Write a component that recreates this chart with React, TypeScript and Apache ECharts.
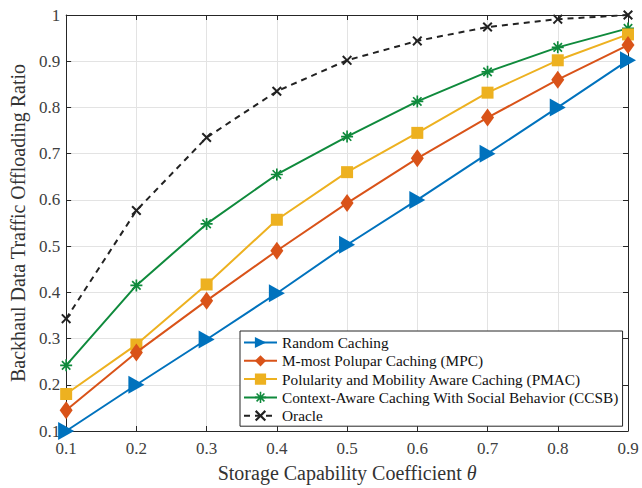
import React, { useEffect, useRef } from "react";
import * as echarts from "echarts";

const xValues = [0.1, 0.2, 0.3, 0.4, 0.5, 0.6, 0.7, 0.8, 0.9];
const randomCaching = [0.1, 0.2, 0.298, 0.398, 0.503, 0.6, 0.7, 0.8, 0.902];
const mpc = [0.145, 0.27, 0.382, 0.49, 0.593, 0.69, 0.778, 0.86, 0.935];
const pmac = [0.18, 0.287, 0.417, 0.557, 0.66, 0.745, 0.832, 0.902, 0.958];
const ccsb = [0.242, 0.415, 0.548, 0.655, 0.737, 0.813, 0.877, 0.93, 0.971];
const oracle = [0.343, 0.577, 0.735, 0.835, 0.902, 0.944, 0.974, 0.991, 1.0];

const seriesNames = [
  "Random Caching",
  "M-most Polupar Caching (MPC)",
  "Polularity and Mobility Aware Caching (PMAC)",
  "Context-Aware Caching With Social Behavior (CCSB)",
  "Oracle",
];

const FONT = "Liberation Serif";
const AXIS_COLOR = "#262626";

const crossPath =
  "path://M0,1.4L1.4,0L5,3.6L8.6,0L10,1.4L6.4,5L10,8.6L8.6,10L5,6.4L1.4,10L0,8.6L3.6,5Z";
const asteriskPath =
  "path://M4.3,0H5.7V10H4.3Z M0,4.3H10V5.7H0Z M1.0,2.0L2.0,1.0L9.0,8.0L8.0,9.0Z M8.0,1.0L9.0,2.0L2.0,9.0L1.0,8.0Z";

const pair = (ys: number[]) => xValues.map((x, i) => [x, ys[i]]);

export default function App() {
  const ref = useRef<HTMLDivElement>(null);
  useEffect(() => {
    if (!ref.current) return;
    const chart = echarts.init(ref.current, null, { renderer: "svg" });
    const fmt1 = (v: number) => "{t|" + (Math.abs(v - 1) < 1e-9 ? "1" : v.toFixed(1)) + "}";
    const tickRich = { t: { fontFamily: FONT, fontSize: 17, color: "#404040" } };
    const baseAxis = {
      type: "value" as const,
      interval: 0.1,
      axisLine: { show: true, lineStyle: { color: AXIS_COLOR, width: 1 } },
      axisTick: { show: true, inside: true, length: 5, lineStyle: { color: AXIS_COLOR } },
    };
    chart.setOption({
      animation: false,
      backgroundColor: "#ffffff",
      textStyle: { fontFamily: FONT },
      grid: { left: 63, right: 14, top: 15, bottom: 53, containLabel: false },
      xAxis: [
        {
          ...baseAxis,
          min: 0.1,
          max: 0.9,
          position: "bottom",
          name: "Storage Capability Coefficient {i|θ}",
          nameLocation: "middle",
          nameGap: 32,
          nameTextStyle: {
            fontFamily: FONT,
            fontSize: 20,
            color: "#333",
            rich: { i: { fontStyle: "italic", fontFamily: FONT, fontSize: 20, color: "#333" } },
          },
          axisLabel: { formatter: fmt1, fontFamily: FONT, fontSize: 17, color: "#404040", margin: 9, rich: tickRich },
          splitLine: { show: true, lineStyle: { color: "#e3e3e3", width: 1 } },
        },
        {
          ...baseAxis,
          min: 0.1,
          max: 0.9,
          position: "top",
          axisLabel: { show: false },
          splitLine: { show: false },
        },
      ],
      yAxis: [
        {
          ...baseAxis,
          min: 0.1,
          max: 1,
          position: "left",
          name: "Backhaul Data Traffic Offloading Ratio",
          nameLocation: "middle",
          nameGap: 38,
          nameTextStyle: { fontFamily: FONT, fontSize: 20, color: "#333" },
          axisLabel: { formatter: fmt1, fontFamily: FONT, fontSize: 17, color: "#404040", margin: 6, rich: tickRich },
          splitLine: { show: true, lineStyle: { color: "#e3e3e3", width: 1 } },
        },
        {
          ...baseAxis,
          min: 0.1,
          max: 1,
          position: "right",
          axisLabel: { show: false },
          splitLine: { show: false },
        },
      ],
      legend: {
        orient: "vertical",
        left: 240,
        top: 331,
        itemWidth: 33,
        itemHeight: 14,
        itemGap: 3.3,
        padding: [4, 4, 3, 3],
        backgroundColor: "#ffffff",
        borderColor: "#262626",
        borderWidth: 1,
        formatter: (name: string) => "{l|" + name + "}",
        textStyle: {
          fontFamily: FONT,
          fontSize: 15.3,
          color: "#111",
          rich: { l: { fontFamily: FONT, fontSize: 15.3, lineHeight: 15, color: "#111" } },
        },
        data: seriesNames,
      },
      series: [
        {
          name: seriesNames[4],
          type: "line",
          data: pair(oracle),
          color: "#222222",
          lineStyle: { width: 2, type: [6, 5], color: "#222222" },
          symbol: crossPath,
          symbolSize: 10,
          itemStyle: { color: "#222222" },
          z: 2,
        },
        {
          name: seriesNames[3],
          type: "line",
          data: pair(ccsb),
          color: "#0f8a3c",
          lineStyle: { width: 2, color: "#0f8a3c" },
          symbol: asteriskPath,
          symbolSize: 12,
          itemStyle: { color: "#0f8a3c" },
          z: 3,
        },
        {
          name: seriesNames[2],
          type: "line",
          data: pair(pmac),
          color: "#EDB120",
          lineStyle: { width: 2, color: "#EDB120" },
          symbol: "rect",
          symbolSize: 12,
          itemStyle: { color: "#EDB120" },
          z: 4,
        },
        {
          name: seriesNames[1],
          type: "line",
          data: pair(mpc),
          color: "#D95319",
          lineStyle: { width: 2, color: "#D95319" },
          symbol: "diamond",
          symbolSize: [13, 18],
          itemStyle: { color: "#D95319" },
          z: 5,
        },
        {
          name: seriesNames[0],
          type: "line",
          data: pair(randomCaching),
          color: "#0072BD",
          lineStyle: { width: 2, color: "#0072BD" },
          symbol: "triangle",
          symbolRotate: -90,
          symbolSize: [18, 16],
          itemStyle: { color: "#0072BD" },
          z: 6,
        },
      ],
    });
    return () => chart.dispose();
  }, []);
  return <div ref={ref} style={{ width: 642, height: 488, position: "absolute", left: 0, top: 0 }} />;
}
